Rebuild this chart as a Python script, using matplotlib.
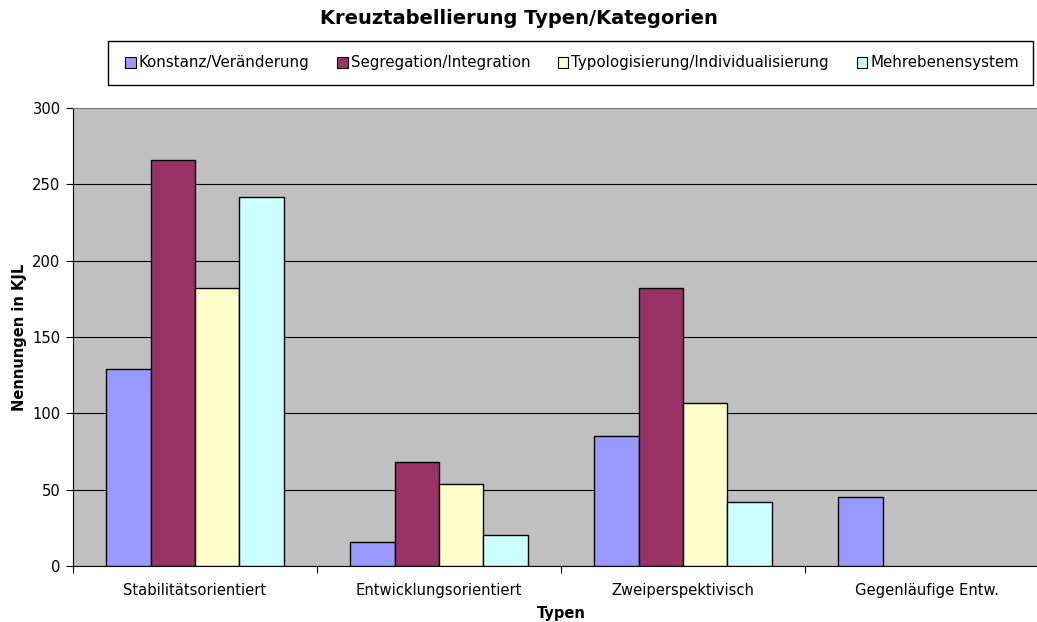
import matplotlib
matplotlib.use("Agg")
import matplotlib.pyplot as plt
from matplotlib.patches import Rectangle
import numpy as np

plt.rcParams.update({
    "font.family": ["DejaVu Sans"],
    "font.size": 10.6,
})

categories = ["Stabilitätsorientiert", "Entwicklungsorientiert",
              "Zweiperspektivisch", "Gegenläufige Entw."]
series_names = ["Konstanz/Veränderung", "Segregation/Integration",
                "Typologisierung/Individualisierung", "Mehrebenensystem"]
konstanz = [129, 16, 85, 45]
segregation = [266, 68, 182, 0]
typologisierung = [182, 54, 107, 0]
mehrebenen = [242, 20, 42, 0]
colors = ["#9999FF", "#993366", "#FFFFCC", "#CCFFFF"]

W, H = 1037, 622
fig = plt.figure(figsize=(W / 100, H / 100), dpi=100)
# plot area runs a little past the right image edge (cropped original)
ax = fig.add_axes([73 / W, (H - 566) / H, 976 / W, 458 / H])
ax.set_facecolor("#C0C0C0")

x = np.arange(len(categories))
bw = 1 / 5.5
all_series = [konstanz, segregation, typologisierung, mehrebenen]
handles = []
for i, (vals, col) in enumerate(zip(all_series, colors)):
    pos = x - 2 * bw + (i + 0.5) * bw
    vals = np.array(vals, dtype=float)
    mask = vals > 0
    ax.bar(pos[mask], vals[mask], bw, color=col, edgecolor="black",
           linewidth=1.0, zorder=3)
    handles.append(Rectangle((0, 0), 1, 1, fc=col, ec="black", lw=0.8))

ax.set_xlim(-0.5, len(categories) - 0.5)
ax.set_ylim(0, 300)
ax.set_yticks(range(0, 301, 50))
ax.yaxis.grid(True, color="black", lw=0.8, zorder=1)
ax.set_axisbelow(True)

ax.set_xticks(x)
ax.set_xticklabels(categories)
ax.set_xticks(np.arange(-0.5, len(categories), 1.0), minor=True)
ax.tick_params(axis="x", which="major", length=0, pad=12)
ax.tick_params(axis="x", which="minor", length=5, width=0.8, direction="out")
ax.tick_params(axis="y", length=5, width=0.8, direction="out", pad=4)

for s in ["top", "right"]:
    ax.spines[s].set_color("#808080")
    ax.spines[s].set_linewidth(0.8)
ax.spines["left"].set_color("black")
ax.spines["bottom"].set_color("black")

ax.set_ylabel("Nennungen in KJL", fontweight="bold", fontsize=10.5, labelpad=4)
ax.set_xlabel("Typen", fontweight="bold", fontsize=10.5, labelpad=6)

fig.text(0.5, 1 - 19 / H, "Kreuztabellierung Typen/Kategorien",
         ha="center", va="center", fontsize=14, fontweight="bold")

# legend frame drawn by hand to match the original box
fig.patches.append(Rectangle((108 / W, (H - 85) / H), 925 / W, 44 / H,
                             transform=fig.transFigure, fill=False,
                             ec="black", lw=1.0))
fig.legend(handles, series_names, loc="center",
           bbox_to_anchor=(572 / W, 1 - 63 / H), ncol=4, frameon=False,
           handlelength=0.7, handleheight=0.7, handletextpad=0.2,
           columnspacing=1.85, fontsize=10.8)

fig.savefig("out.png", dpi=100)
